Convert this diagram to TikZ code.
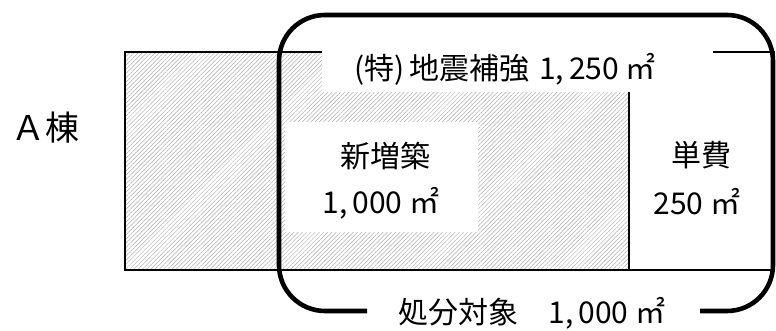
\documentclass[tikz,border=0pt]{standalone}
\usepackage{fontspec}
\setmainfont{Noto Sans CJK JP}
\usetikzlibrary{patterns.meta}
\tikzset{
  thin line/.style={line width=1.6pt, black},
  thick frame/.style={line width=4.6pt, black, rounded corners=46pt},
  hatch/.style={pattern={Lines[angle=45,distance=3pt,line width=0.5pt]}, pattern color=gray!65},
  lbl/.style={inner sep=0pt, font=\fontsize{30}{34}\selectfont}
}
\begin{document}
\begin{tikzpicture}[x=1pt,y=1pt]
\useasboundingbox (0,0) rectangle (776,331);
% hatched area
\fill[hatch] (125,61) rectangle (629,279);
% white areas
\fill[white] (322,282) rectangle (713,239);
\fill[white] (285,209) rectangle (478,99);
% outer rectangle
\draw[thin line] (322,279) -- (125,279) -- (125,61) -- (774,61) -- (774,279) -- (713,279);
\draw[thin line] (629,239) -- (629,61);
% labels
\node[lbl, font=\fontsize{34}{38}\selectfont] (A) at (45,203) {Ａ棟};
\node[lbl] (top) at (505,262) {(特)\hspace{5pt}地震補強\hspace{10pt}1,\hspace{5pt}250 ㎡};
\node[lbl] (new1) at (385,175) {新増築};
\node[lbl] (new2) at (381,128) {1,\hspace{5pt}000 ㎡};
\node[lbl] (sol1) at (701,176) {単費};
\node[lbl] (sol2) at (697,129) {250 ㎡};
\node[lbl] (bot) at (532,18) {処分対象\hspace{30pt}1,\hspace{5pt}000 ㎡};
% thick rounded frame
\draw[thick frame] (367,20) -- (279,20) -- (279,316) -- (773,316) -- (773,20) -- (700,20);
\end{tikzpicture}
\end{document}
